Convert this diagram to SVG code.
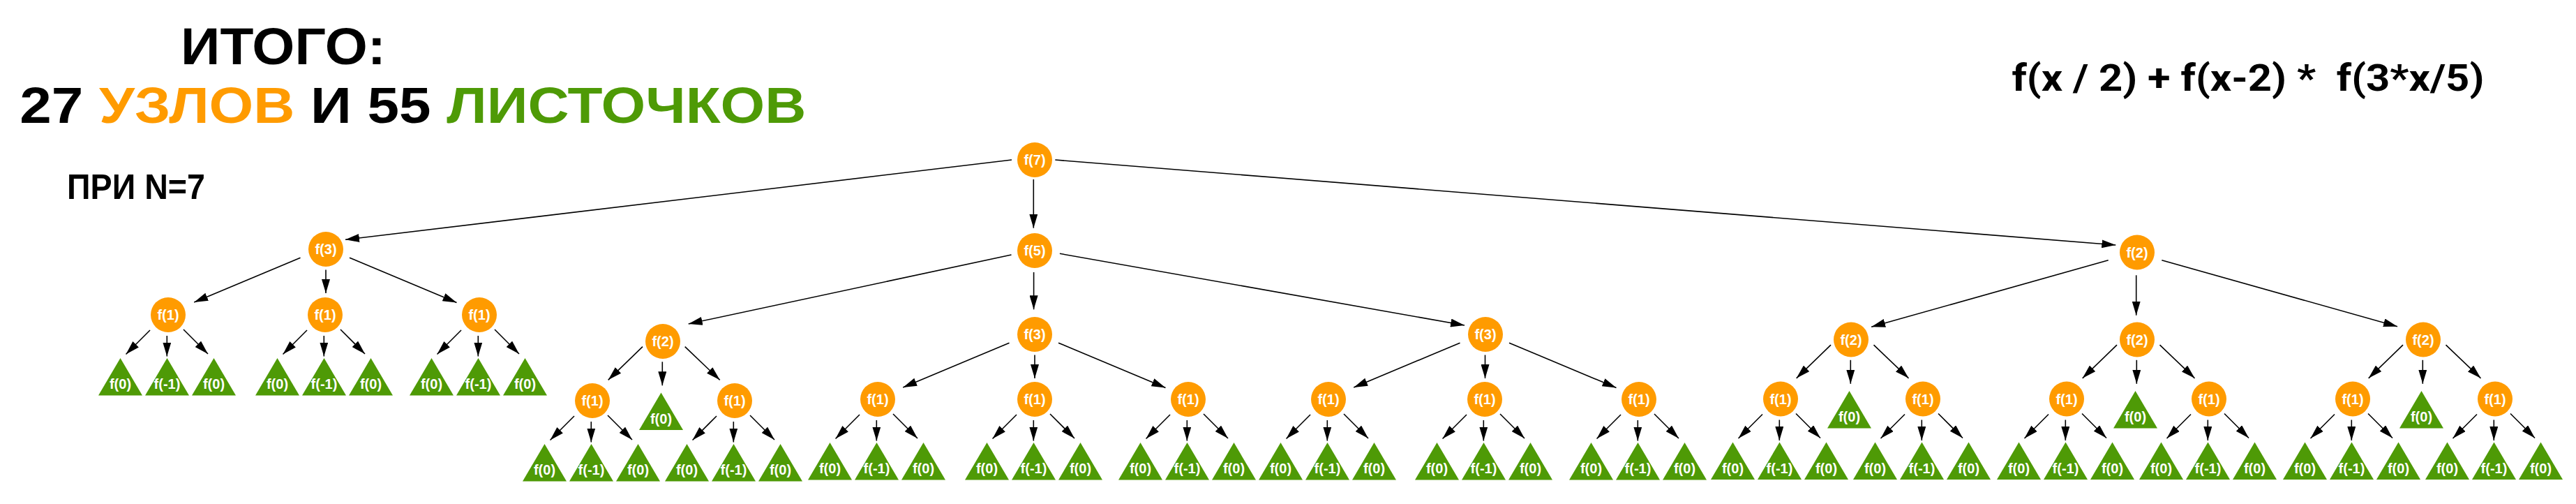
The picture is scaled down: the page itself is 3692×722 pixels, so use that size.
<svg xmlns="http://www.w3.org/2000/svg" xmlns:xlink="http://www.w3.org/1999/xlink" width="3692" height="722" viewBox="0 0 3692 722">
<style>
.n{fill:#ff9b00}
.t{fill:#4e9a06}
.lb{font-family:"Liberation Sans",Arial,sans-serif;font-weight:bold;font-size:20px;fill:#fff;text-anchor:middle}
.e{stroke:#000;stroke-width:1.6;fill:none;marker-end:url(#ar)}
.hd{font-family:"Liberation Sans",Arial,sans-serif;font-weight:bold;fill:#000}
</style>
<defs>
<marker id="ar" markerUnits="userSpaceOnUse" markerWidth="20" markerHeight="12" refX="20" refY="6" orient="auto">
<path d="M0,0 L20,6 L0,12 z" fill="#000"/>
</marker>
<polygon id="tri" points="0,0 31.5,53.5 -31.5,53.5"/>
</defs>
<rect width="3692" height="722" fill="#fff"/>

<g id="titles">
<text class="hd" x="259" y="91.5" font-size="74" textLength="294" lengthAdjust="spacingAndGlyphs">ИТОГО:</text>
<text class="hd" x="28.3" y="176" font-size="73" textLength="1127" lengthAdjust="spacingAndGlyphs">27 <tspan fill="#ff9b00">УЗЛОВ</tspan> И 55 <tspan fill="#4e9a06">ЛИСТОЧКОВ</tspan></text>
<text class="hd" x="96" y="285" font-size="50" textLength="198" lengthAdjust="spacingAndGlyphs">ПРИ N=7</text>
<text x="2883.4" y="130" font-family="Roboto,'Liberation Sans',Arial,sans-serif" font-weight="bold" font-size="53" textLength="677" lengthAdjust="spacingAndGlyphs" xml:space="preserve">f(x / 2) + f(x-2) *  f(3*x/5)</text>
</g>

<g id="connectors">
<line class="e" x1="1450" y1="229" x2="495" y2="343.3"/>
<line class="e" x1="1481.3" y1="257" x2="1481.3" y2="326.7"/>
<line class="e" x1="1512.3" y1="229" x2="3032.3" y2="351"/>

<line class="e" x1="430.5" y1="369.2" x2="278.2" y2="433"/>
<line class="e" x1="467" y1="386.5" x2="467" y2="420"/>
<line class="e" x1="501" y1="369.2" x2="654.5" y2="433.5"/>
<line class="e" x1="215" y1="473" x2="180.5" y2="507.5"/>
<line class="e" x1="239.3" y1="481" x2="239.3" y2="510.5"/>
<line class="e" x1="263" y1="472" x2="298" y2="507"/>
<line class="e" x1="440" y1="473" x2="405.5" y2="507.5"/>
<line class="e" x1="464.3" y1="481" x2="464.3" y2="510.5"/>
<line class="e" x1="488" y1="472" x2="523" y2="507"/>
<line class="e" x1="661" y1="473" x2="626.5" y2="507.5"/>
<line class="e" x1="685.3" y1="481" x2="685.3" y2="510.5"/>
<line class="e" x1="709" y1="472" x2="744" y2="507"/>

<line class="e" x1="1449.5" y1="365" x2="986.7" y2="464"/>
<line class="e" x1="1481.6" y1="390" x2="1481.6" y2="443.3"/>
<line class="e" x1="1518.9" y1="363.3" x2="2099" y2="466"/>

<line class="e" x1="921" y1="496.7" x2="871.7" y2="544.3"/>
<line class="e" x1="949.3" y1="518.3" x2="949.3" y2="552.3"/>
<line class="e" x1="981.7" y1="496.7" x2="1031.7" y2="544.3"/>
<line class="e" x1="823" y1="596" x2="788.5" y2="630.5"/>
<line class="e" x1="847.3" y1="604" x2="847.3" y2="633.5"/>
<line class="e" x1="871" y1="595" x2="906" y2="630"/>
<line class="e" x1="1027" y1="596" x2="992.5" y2="630.5"/>
<line class="e" x1="1051.3" y1="604" x2="1051.3" y2="633.5"/>
<line class="e" x1="1075" y1="595" x2="1110" y2="630"/>

<line class="e" x1="1446.5" y1="491.2" x2="1294.2" y2="555"/>
<line class="e" x1="1483" y1="508.5" x2="1483" y2="542"/>
<line class="e" x1="1517" y1="491.2" x2="1670.5" y2="555.5"/>
<line class="e" x1="1232" y1="594" x2="1197.5" y2="628.5"/>
<line class="e" x1="1256.3" y1="602" x2="1256.3" y2="631.5"/>
<line class="e" x1="1280" y1="593" x2="1315" y2="628"/>
<line class="e" x1="1457" y1="594" x2="1422.5" y2="628.5"/>
<line class="e" x1="1481.3" y1="602" x2="1481.3" y2="631.5"/>
<line class="e" x1="1505" y1="593" x2="1540" y2="628"/>
<line class="e" x1="1677" y1="594" x2="1642.5" y2="628.5"/>
<line class="e" x1="1701.3" y1="602" x2="1701.3" y2="631.5"/>
<line class="e" x1="1725" y1="593" x2="1760" y2="628"/>

<line class="e" x1="2092.5" y1="491.2" x2="1940.2" y2="555"/>
<line class="e" x1="2128.5" y1="508.5" x2="2128.5" y2="542"/>
<line class="e" x1="2163" y1="491.2" x2="2316.5" y2="555.5"/>
<line class="e" x1="1878" y1="594" x2="1843.5" y2="628.5"/>
<line class="e" x1="1902.3" y1="602" x2="1902.3" y2="631.5"/>
<line class="e" x1="1926" y1="593" x2="1961" y2="628"/>
<line class="e" x1="2102" y1="594" x2="2067.5" y2="628.5"/>
<line class="e" x1="2126.3" y1="602" x2="2126.3" y2="631.5"/>
<line class="e" x1="2150" y1="593" x2="2185" y2="628"/>
<line class="e" x1="2323" y1="594" x2="2288.5" y2="628.5"/>
<line class="e" x1="2347.3" y1="602" x2="2347.3" y2="631.5"/>
<line class="e" x1="2371" y1="593" x2="2406" y2="628"/>

<line class="e" x1="3021.7" y1="372.7" x2="2682.1" y2="468.3"/>
<line class="e" x1="3061.7" y1="394.3" x2="3061.7" y2="451.7"/>
<line class="e" x1="3098.3" y1="372.7" x2="3436" y2="467.7"/>

<line class="e" x1="2624" y1="494.2" x2="2574.7" y2="541.8"/>
<line class="e" x1="2652.3" y1="515.8" x2="2652.3" y2="549.8"/>
<line class="e" x1="2685.5" y1="494.2" x2="2735.5" y2="541.8"/>
<line class="e" x1="2526" y1="593.5" x2="2491.5" y2="628"/>
<line class="e" x1="2550.3" y1="601.5" x2="2550.3" y2="631"/>
<line class="e" x1="2574" y1="592.5" x2="2609" y2="627.5"/>
<line class="e" x1="2730" y1="593.5" x2="2695.5" y2="628"/>
<line class="e" x1="2754.3" y1="601.5" x2="2754.3" y2="631"/>
<line class="e" x1="2778" y1="592.5" x2="2813" y2="627.5"/>

<line class="e" x1="3034" y1="494.2" x2="2984.7" y2="541.8"/>
<line class="e" x1="3062.3" y1="515.8" x2="3062.3" y2="549.8"/>
<line class="e" x1="3095.5" y1="494.2" x2="3145.5" y2="541.8"/>
<line class="e" x1="2936" y1="593.5" x2="2901.5" y2="628"/>
<line class="e" x1="2960.3" y1="601.5" x2="2960.3" y2="631"/>
<line class="e" x1="2984" y1="592.5" x2="3019" y2="627.5"/>
<line class="e" x1="3140" y1="593.5" x2="3105.5" y2="628"/>
<line class="e" x1="3164.3" y1="601.5" x2="3164.3" y2="631"/>
<line class="e" x1="3188" y1="592.5" x2="3223" y2="627.5"/>

<line class="e" x1="3444" y1="494.2" x2="3394.7" y2="541.8"/>
<line class="e" x1="3472.3" y1="515.8" x2="3472.3" y2="549.8"/>
<line class="e" x1="3505.5" y1="494.2" x2="3555.5" y2="541.8"/>
<line class="e" x1="3346" y1="593.5" x2="3311.5" y2="628"/>
<line class="e" x1="3370.3" y1="601.5" x2="3370.3" y2="631"/>
<line class="e" x1="3394" y1="592.5" x2="3429" y2="627.5"/>
<line class="e" x1="3550" y1="593.5" x2="3515.5" y2="628"/>
<line class="e" x1="3574.3" y1="601.5" x2="3574.3" y2="631"/>
<line class="e" x1="3598" y1="592.5" x2="3633" y2="627.5"/>
</g>

<g id="n_root"><circle class="n" cx="1483" cy="229" r="25"/><text class="lb" x="1483" y="236">f(7)</text></g>
<g id="n_a"><circle class="n" cx="467" cy="357" r="25"/><text class="lb" x="467" y="364">f(3)</text></g>
<g id="n_b"><circle class="n" cx="1483" cy="359" r="25"/><text class="lb" x="1483" y="366">f(5)</text></g>
<g id="n_c"><circle class="n" cx="3063" cy="361.5" r="25"/><text class="lb" x="3063" y="368.5">f(2)</text></g>

<g id="n_a1"><circle class="n" cx="241" cy="451" r="25"/><text class="lb" x="241" y="458">f(1)</text></g>
<g id="n_a2"><circle class="n" cx="466" cy="451" r="25"/><text class="lb" x="466" y="458">f(1)</text></g>
<g id="n_a3"><circle class="n" cx="687" cy="451" r="25"/><text class="lb" x="687" y="458">f(1)</text></g>

<g id="n_b1"><circle class="n" cx="950" cy="489" r="25"/><text class="lb" x="950" y="496">f(2)</text></g>
<g id="n_b11"><circle class="n" cx="849" cy="574" r="25"/><text class="lb" x="849" y="581">f(1)</text></g>
<g id="n_b12"><circle class="n" cx="1053" cy="574" r="25"/><text class="lb" x="1053" y="581">f(1)</text></g>

<g id="n_b2"><circle class="n" cx="1483" cy="479" r="25"/><text class="lb" x="1483" y="486">f(3)</text></g>
<g id="n_b21"><circle class="n" cx="1258" cy="572" r="25"/><text class="lb" x="1258" y="579">f(1)</text></g>
<g id="n_b22"><circle class="n" cx="1483" cy="572" r="25"/><text class="lb" x="1483" y="579">f(1)</text></g>
<g id="n_b23"><circle class="n" cx="1703" cy="572" r="25"/><text class="lb" x="1703" y="579">f(1)</text></g>

<g id="n_b3"><circle class="n" cx="2129" cy="479" r="25"/><text class="lb" x="2129" y="486">f(3)</text></g>
<g id="n_b31"><circle class="n" cx="1904" cy="572" r="25"/><text class="lb" x="1904" y="579">f(1)</text></g>
<g id="n_b32"><circle class="n" cx="2128" cy="572" r="25"/><text class="lb" x="2128" y="579">f(1)</text></g>
<g id="n_b33"><circle class="n" cx="2349" cy="572" r="25"/><text class="lb" x="2349" y="579">f(1)</text></g>

<g id="n_c1"><circle class="n" cx="2653" cy="486.5" r="25"/><text class="lb" x="2653" y="493.5">f(2)</text></g>
<g id="n_c11"><circle class="n" cx="2552" cy="571.5" r="25"/><text class="lb" x="2552" y="578.5">f(1)</text></g>
<g id="n_c12"><circle class="n" cx="2756" cy="571.5" r="25"/><text class="lb" x="2756" y="578.5">f(1)</text></g>

<g id="n_c2"><circle class="n" cx="3063" cy="486.5" r="25"/><text class="lb" x="3063" y="493.5">f(2)</text></g>
<g id="n_c21"><circle class="n" cx="2962" cy="571.5" r="25"/><text class="lb" x="2962" y="578.5">f(1)</text></g>
<g id="n_c22"><circle class="n" cx="3166" cy="571.5" r="25"/><text class="lb" x="3166" y="578.5">f(1)</text></g>

<g id="n_c3"><circle class="n" cx="3473" cy="486.5" r="25"/><text class="lb" x="3473" y="493.5">f(2)</text></g>
<g id="n_c31"><circle class="n" cx="3372" cy="571.5" r="25"/><text class="lb" x="3372" y="578.5">f(1)</text></g>
<g id="n_c32"><circle class="n" cx="3576" cy="571.5" r="25"/><text class="lb" x="3576" y="578.5">f(1)</text></g>

<g id="l_a1a"><use href="#tri" class="t" x="172.5" y="513"/><text class="lb" x="172.5" y="557">f(0)</text></g>
<g id="l_a1b"><use href="#tri" class="t" x="239.5" y="513"/><text class="lb" x="239.5" y="557">f(-1)</text></g>
<g id="l_a1c"><use href="#tri" class="t" x="306.5" y="513"/><text class="lb" x="306.5" y="557">f(0)</text></g>
<g id="l_a2a"><use href="#tri" class="t" x="397.5" y="513"/><text class="lb" x="397.5" y="557">f(0)</text></g>
<g id="l_a2b"><use href="#tri" class="t" x="464.5" y="513"/><text class="lb" x="464.5" y="557">f(-1)</text></g>
<g id="l_a2c"><use href="#tri" class="t" x="531.5" y="513"/><text class="lb" x="531.5" y="557">f(0)</text></g>
<g id="l_a3a"><use href="#tri" class="t" x="618.5" y="513"/><text class="lb" x="618.5" y="557">f(0)</text></g>
<g id="l_a3b"><use href="#tri" class="t" x="685.5" y="513"/><text class="lb" x="685.5" y="557">f(-1)</text></g>
<g id="l_a3c"><use href="#tri" class="t" x="752.5" y="513"/><text class="lb" x="752.5" y="557">f(0)</text></g>

<g id="l_b1m"><use href="#tri" class="t" x="947.5" y="562.5"/><text class="lb" x="947.5" y="606.5">f(0)</text></g>
<g id="l_b11a"><use href="#tri" class="t" x="780.5" y="636"/><text class="lb" x="780.5" y="680">f(0)</text></g>
<g id="l_b11b"><use href="#tri" class="t" x="847.5" y="636"/><text class="lb" x="847.5" y="680">f(-1)</text></g>
<g id="l_b11c"><use href="#tri" class="t" x="914.5" y="636"/><text class="lb" x="914.5" y="680">f(0)</text></g>
<g id="l_b12a"><use href="#tri" class="t" x="984.5" y="636"/><text class="lb" x="984.5" y="680">f(0)</text></g>
<g id="l_b12b"><use href="#tri" class="t" x="1051.5" y="636"/><text class="lb" x="1051.5" y="680">f(-1)</text></g>
<g id="l_b12c"><use href="#tri" class="t" x="1118.5" y="636"/><text class="lb" x="1118.5" y="680">f(0)</text></g>

<g id="l_b21a"><use href="#tri" class="t" x="1189.5" y="634"/><text class="lb" x="1189.5" y="678">f(0)</text></g>
<g id="l_b21b"><use href="#tri" class="t" x="1256.5" y="634"/><text class="lb" x="1256.5" y="678">f(-1)</text></g>
<g id="l_b21c"><use href="#tri" class="t" x="1323.5" y="634"/><text class="lb" x="1323.5" y="678">f(0)</text></g>
<g id="l_b22a"><use href="#tri" class="t" x="1414.5" y="634"/><text class="lb" x="1414.5" y="678">f(0)</text></g>
<g id="l_b22b"><use href="#tri" class="t" x="1481.5" y="634"/><text class="lb" x="1481.5" y="678">f(-1)</text></g>
<g id="l_b22c"><use href="#tri" class="t" x="1548.5" y="634"/><text class="lb" x="1548.5" y="678">f(0)</text></g>
<g id="l_b23a"><use href="#tri" class="t" x="1634.5" y="634"/><text class="lb" x="1634.5" y="678">f(0)</text></g>
<g id="l_b23b"><use href="#tri" class="t" x="1701.5" y="634"/><text class="lb" x="1701.5" y="678">f(-1)</text></g>
<g id="l_b23c"><use href="#tri" class="t" x="1768.5" y="634"/><text class="lb" x="1768.5" y="678">f(0)</text></g>

<g id="l_b31a"><use href="#tri" class="t" x="1835.5" y="634"/><text class="lb" x="1835.5" y="678">f(0)</text></g>
<g id="l_b31b"><use href="#tri" class="t" x="1902.5" y="634"/><text class="lb" x="1902.5" y="678">f(-1)</text></g>
<g id="l_b31c"><use href="#tri" class="t" x="1969.5" y="634"/><text class="lb" x="1969.5" y="678">f(0)</text></g>
<g id="l_b32a"><use href="#tri" class="t" x="2059.5" y="634"/><text class="lb" x="2059.5" y="678">f(0)</text></g>
<g id="l_b32b"><use href="#tri" class="t" x="2126.5" y="634"/><text class="lb" x="2126.5" y="678">f(-1)</text></g>
<g id="l_b32c"><use href="#tri" class="t" x="2193.5" y="634"/><text class="lb" x="2193.5" y="678">f(0)</text></g>
<g id="l_b33a"><use href="#tri" class="t" x="2280.5" y="634"/><text class="lb" x="2280.5" y="678">f(0)</text></g>
<g id="l_b33b"><use href="#tri" class="t" x="2347.5" y="634"/><text class="lb" x="2347.5" y="678">f(-1)</text></g>
<g id="l_b33c"><use href="#tri" class="t" x="2414.5" y="634"/><text class="lb" x="2414.5" y="678">f(0)</text></g>

<g id="l_c1m"><use href="#tri" class="t" x="2650.5" y="560"/><text class="lb" x="2650.5" y="604">f(0)</text></g>
<g id="l_c11a"><use href="#tri" class="t" x="2483.5" y="633.5"/><text class="lb" x="2483.5" y="677.5">f(0)</text></g>
<g id="l_c11b"><use href="#tri" class="t" x="2550.5" y="633.5"/><text class="lb" x="2550.5" y="677.5">f(-1)</text></g>
<g id="l_c11c"><use href="#tri" class="t" x="2617.5" y="633.5"/><text class="lb" x="2617.5" y="677.5">f(0)</text></g>
<g id="l_c12a"><use href="#tri" class="t" x="2687.5" y="633.5"/><text class="lb" x="2687.5" y="677.5">f(0)</text></g>
<g id="l_c12b"><use href="#tri" class="t" x="2754.5" y="633.5"/><text class="lb" x="2754.5" y="677.5">f(-1)</text></g>
<g id="l_c12c"><use href="#tri" class="t" x="2821.5" y="633.5"/><text class="lb" x="2821.5" y="677.5">f(0)</text></g>

<g id="l_c2m"><use href="#tri" class="t" x="3060.5" y="560"/><text class="lb" x="3060.5" y="604">f(0)</text></g>
<g id="l_c21a"><use href="#tri" class="t" x="2893.5" y="633.5"/><text class="lb" x="2893.5" y="677.5">f(0)</text></g>
<g id="l_c21b"><use href="#tri" class="t" x="2960.5" y="633.5"/><text class="lb" x="2960.5" y="677.5">f(-1)</text></g>
<g id="l_c21c"><use href="#tri" class="t" x="3027.5" y="633.5"/><text class="lb" x="3027.5" y="677.5">f(0)</text></g>
<g id="l_c22a"><use href="#tri" class="t" x="3097.5" y="633.5"/><text class="lb" x="3097.5" y="677.5">f(0)</text></g>
<g id="l_c22b"><use href="#tri" class="t" x="3164.5" y="633.5"/><text class="lb" x="3164.5" y="677.5">f(-1)</text></g>
<g id="l_c22c"><use href="#tri" class="t" x="3231.5" y="633.5"/><text class="lb" x="3231.5" y="677.5">f(0)</text></g>

<g id="l_c3m"><use href="#tri" class="t" x="3470.5" y="560"/><text class="lb" x="3470.5" y="604">f(0)</text></g>
<g id="l_c31a"><use href="#tri" class="t" x="3303.5" y="633.5"/><text class="lb" x="3303.5" y="677.5">f(0)</text></g>
<g id="l_c31b"><use href="#tri" class="t" x="3370.5" y="633.5"/><text class="lb" x="3370.5" y="677.5">f(-1)</text></g>
<g id="l_c31c"><use href="#tri" class="t" x="3437.5" y="633.5"/><text class="lb" x="3437.5" y="677.5">f(0)</text></g>
<g id="l_c32a"><use href="#tri" class="t" x="3507.5" y="633.5"/><text class="lb" x="3507.5" y="677.5">f(0)</text></g>
<g id="l_c32b"><use href="#tri" class="t" x="3574.5" y="633.5"/><text class="lb" x="3574.5" y="677.5">f(-1)</text></g>
<g id="l_c32c"><use href="#tri" class="t" x="3641.5" y="633.5"/><text class="lb" x="3641.5" y="677.5">f(0)</text></g>
</svg>
